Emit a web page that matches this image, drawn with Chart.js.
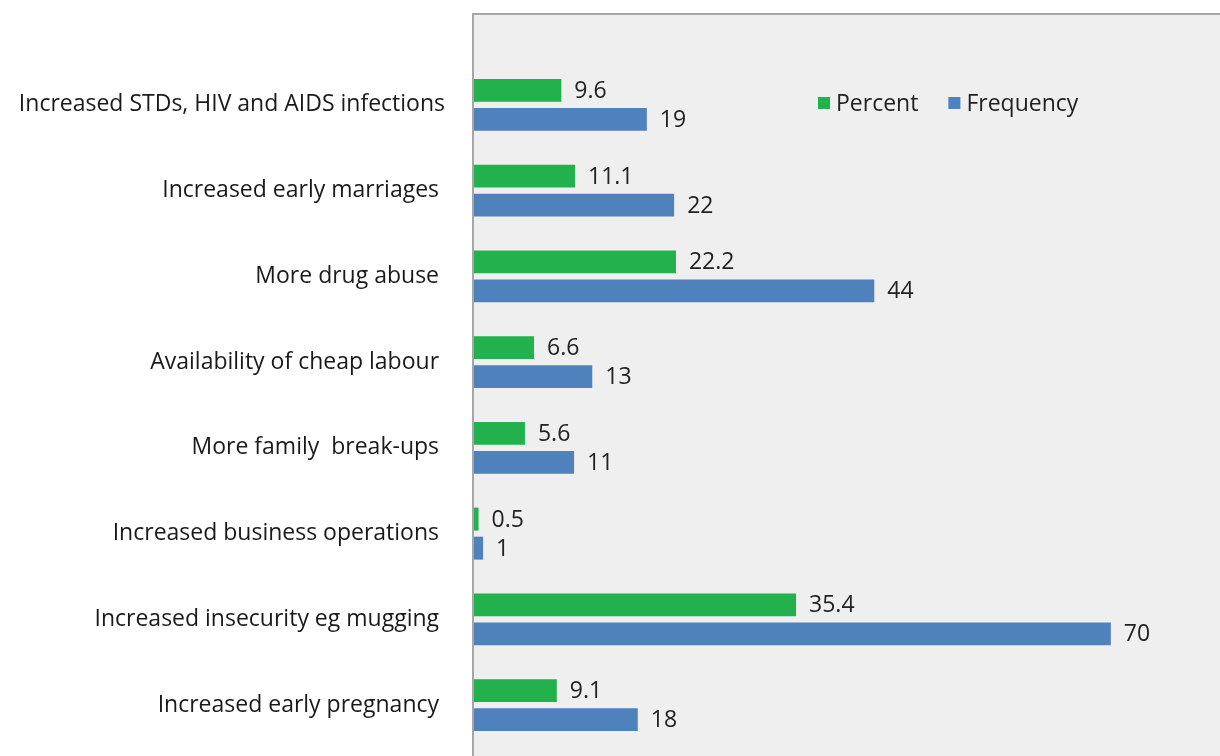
<!DOCTYPE html>
<html>
<head>
<meta charset="utf-8">
<script src="https://cdn.jsdelivr.net/npm/chart.js@4"></script>
<style>
  html, body { margin: 0; padding: 0; background: #ffffff; overflow: hidden; }
  #wrap { width: 1220px; height: 756px; position: relative; }
</style>
</head>
<body>
<div id="wrap"><canvas id="impact-chart"></canvas></div>
<script>
// Perceived impacts — percent and frequency of responses
const categories = [
    'Increased STDs, HIV and AIDS infections',
    'Increased early marriages ',
    'More drug abuse ',
    'Availability of cheap labour ',
    'More family  break-ups ',
    'Increased business operations ',
    'Increased insecurity eg mugging ',
    'Increased early pregnancy '
];
const percentValues = [9.6, 11.1, 22.2, 6.6, 5.6, 0.5, 35.4, 9.1];
const frequencyValues = [19, 22, 44, 13, 11, 1, 70, 18];

const FONT = '"Open Sans", "Noto Sans", sans-serif';
const FONT_SIZE = 23;
const GREEN = '#22b14c';
const BLUE = '#4f81bd';

// grey plot panel with top/left frame, starting above the first bar
const panelBg = {
    id: 'panelBg',
    beforeDraw(chart) {
        const { ctx, chartArea } = chart;
        const top = 14;
        ctx.save();
        ctx.fillStyle = '#efefef';
        ctx.fillRect(chartArea.left, top, chart.width - chartArea.left, chart.height - top);
        ctx.strokeStyle = '#a6a6a6';
        ctx.lineWidth = 2;
        ctx.beginPath();
        ctx.moveTo(chartArea.left - 1, chart.height);
        ctx.lineTo(chartArea.left - 1, top);
        ctx.lineTo(chart.width, top);
        ctx.stroke();
        ctx.restore();
    }
};

// value printed to the right of each bar
const barValues = {
    id: 'barValues',
    afterDatasetsDraw(chart) {
        const { ctx } = chart;
        ctx.save();
        ctx.font = FONT_SIZE + 'px ' + FONT;
        ctx.fillStyle = '#222222';
        ctx.textAlign = 'left';
        ctx.textBaseline = 'middle';
        chart.data.datasets.forEach((ds, di) => {
            chart.getDatasetMeta(di).data.forEach((bar, i) => {
                ctx.fillText(String(ds.data[i]), bar.x + 13, bar.y + 1);
            });
        });
        ctx.restore();
    }
};

// legend sitting inside the plot, top right
const innerLegend = {
    id: 'innerLegend',
    afterDraw(chart) {
        const { ctx } = chart;
        let x = 818;
        const y = 103;
        ctx.save();
        ctx.font = FONT_SIZE + 'px ' + FONT;
        ctx.textBaseline = 'middle';
        ctx.textAlign = 'left';
        chart.data.datasets.forEach(ds => {
            ctx.fillStyle = ds.backgroundColor;
            ctx.fillRect(x, y - 6, 12, 12);
            ctx.fillStyle = '#222222';
            ctx.fillText(ds.label, x + 18, y + 1);
            x += 18 + ctx.measureText(ds.label).width + 30;
        });
        ctx.restore();
    }
};

new Chart(document.getElementById('impact-chart'), {
    type: 'bar',
    data: {
        labels: categories,
        datasets: [
            { label: 'Percent', data: percentValues, backgroundColor: GREEN },
            { label: 'Frequency', data: frequencyValues, backgroundColor: BLUE }
        ]
    },
    options: {
        indexAxis: 'y',
        responsive: true,
        maintainAspectRatio: false,
        animation: false,
        categoryPercentage: 0.677,
        barPercentage: 0.79,
        layout: { padding: { top: 62, bottom: 8, left: 0, right: 0 } },
        plugins: {
            legend: { display: false },
            tooltip: { enabled: false }
        },
        scales: {
            x: { display: false, min: 0, max: 82 },
            y: {
                grid: { display: false, drawTicks: true, tickLength: 29 },
                border: { display: false },
                ticks: {
                    color: '#1a1a1a',
                    padding: 0,
                    font: { family: FONT, size: FONT_SIZE, lineHeight: 0.6 }
                },
                afterFit(scale) { scale.width = 474; }
            }
        }
    },
    plugins: [panelBg, barValues, innerLegend]
});
</script>
</body>
</html>
